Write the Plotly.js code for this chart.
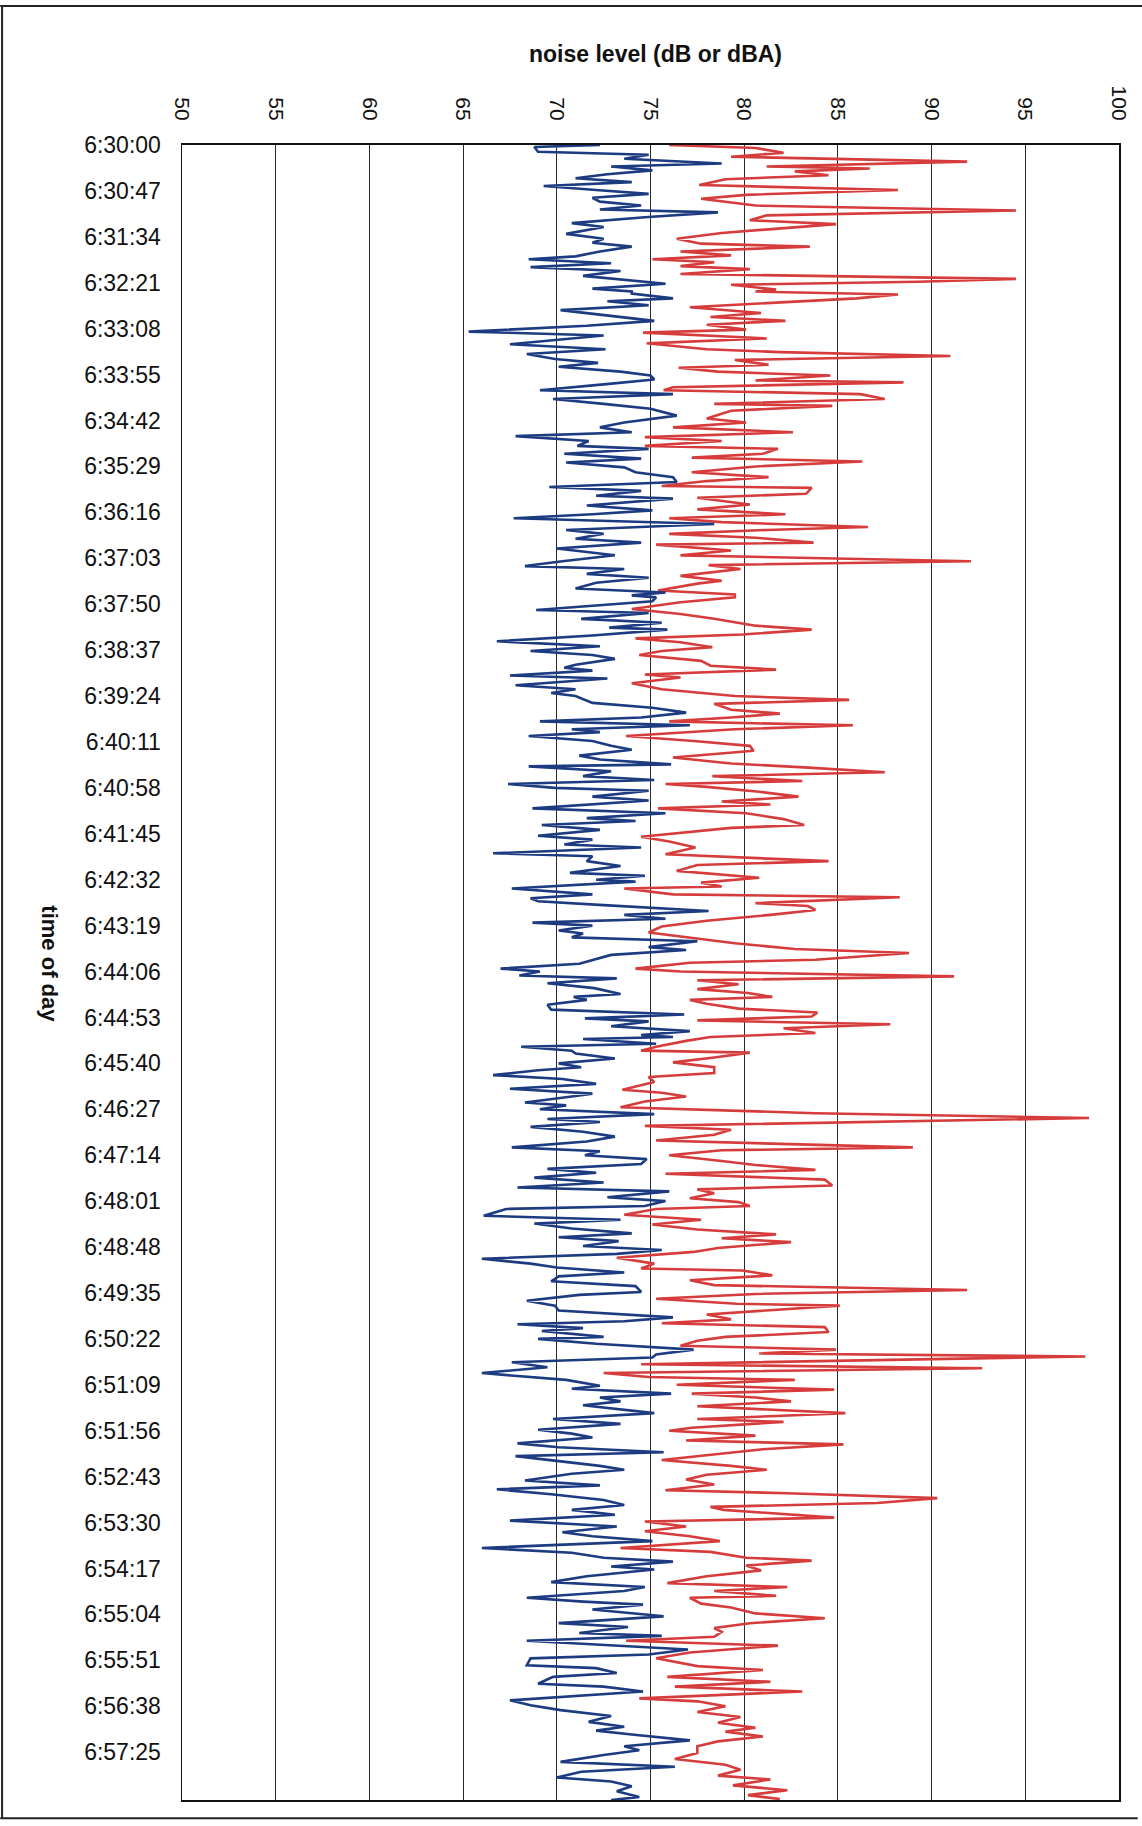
<!DOCTYPE html>
<html>
<head>
<meta charset="utf-8">
<script src="https://cdn.plot.ly/plotly-3.0.1.min.js"></script>
<style>
html,body{margin:0;padding:0;background:#fff;}
#chart{width:1142px;height:1826px;}
</style>
</head>
<body>
<div id="chart"></div>
<script>
// seconds after 6:30:00 and noise level readings
const blueTime = [0,2,7,10,14,19,22,26,30,34,38,42,46,50,54,58,62,66,69,74,80,84,91,96,100,104,109,114,117,121,125,129,134,138,142,147,150,
152,157,160,164,169,174,180,185,191,195,204,209,214,219,223,227,232,236,240,245,251,255,260,265,270,277,284,289,294,298,303,
308,311,316,321,325,330,335,340,345,350,354,359,362,369,374,378,382,386,388,394,398,403,407,413,417,420,426,431,434,439,443,448,454,458,461,
463,467,476,479,485,489,494,496,502,508,513,518,522,526,532,535,538,543,546,553,557,561,564,571,576,581,586,590,594,598,601,605,610,615,
619,625,629,634,636,641,646,650,654,658,661,667,671,679,684,689,692,696,701,707,711,716,719,725,728,733,738,745,748,752,754,761,767,771,
774,778,784,788,792,796,799,804,807,811,815,821,824,829,838,843,846,850,853,858,863,869,872,875,880,885,890,894,897,902,907,911,913,915,920,923,927,
930,935,940,944,947,952,956,961,966,971,974,980,983,987,992,997,1000,1005,1010,1015,1020,1026,1030,1034,1038,1043,1048,1052,1057,1062,1067,1071,1077,1081,
1086,1089,1096,1100,1104,1109,1114,1118,1122,1127,1131,1135,1140,1145,1149,1154,1158,1163,1168,1174,1177,1183,1188,1193,1200,1204,1207,1211,1214,1220,1222,1227,1233,1238,
1241,1246,1251,1257,1264,1270,1273,1278,1282,1286,1290,1298,1304,1309,1315,1319,1323,1329,1333,1338,1342,1347,1352,1356,1360,1367,1372,1376,1381,1387,1392,
1397,1402,1408,1414,1420,1424,1429,1436,1441,1446,1450,1455,1458,1465,1471,1476,1480,1487,1491,1494,1499,1506,1513,1517,1523,1526,1531,1536,1540,1545,1549,
1556,1559,1564,1568,1575,1578,1583,1588,1592,1597,1602,1608,1614,1619,1623,1627,1633,1639,1643,1648,1655,1660,1665,1671,1675,1680,1685,1691,1694];
const blueLevel = [72.3,68.8,69.0,74.9,73.6,78.8,72.9,75.1,72.7,71.0,74.0,69.3,72.1,74.9,71.9,72.3,74.5,72.3,78.6,74.7,70.8,72.5,70.5,72.5,71.9,74.0,72.3,71.0,68.5,72.9,68.6,73.4,71.4,73.6,75.8,71.9,74.0,
74.0,76.2,72.7,74.9,70.2,72.5,75.2,71.6,65.3,72.5,67.5,72.6,68.4,69.9,72.2,70.1,73.4,75.0,75.2,72.5,69.1,76.2,69.8,72.5,75.0,76.4,73.6,72.3,74.0,67.8,71.7,
71.1,74.9,70.4,74.5,70.5,73.6,74.2,76.2,76.4,69.6,74.5,72.1,76.2,71.6,75.1,71.9,67.7,75.1,78.4,70.5,72.5,71.0,74.5,70.0,71.9,73.1,70.3,68.3,73.6,71.6,74.9,72.1,71.0,75.8,74.0,
75.3,75.1,68.9,74.9,71.3,75.6,72.8,75.9,71.9,66.8,72.3,68.6,71.9,73.1,71.0,70.4,71.9,67.5,72.7,67.8,71.0,69.7,71.0,71.9,75.1,76.9,74.5,69.1,77.1,70.8,72.3,68.5,71.9,72.9,
74.0,71.2,72.3,76.1,68.5,72.9,71.4,75.2,67.4,69.9,74.9,71.9,74.9,68.7,75.8,71.6,74.2,69.2,72.3,69.0,71.9,70.4,74.5,66.6,71.9,71.6,73.4,70.7,74.7,72.1,74.2,67.6,71.9,68.6,
69.0,72.5,78.1,73.6,75.8,68.7,71.9,70.1,71.4,70.8,77.5,74.9,76.9,72.9,71.2,67.0,69.1,68.0,73.2,69.5,72.0,73.4,70.9,71.6,69.5,69.7,76.8,71.5,74.9,72.9,77.1,74.5,76.2,71.4,75.3,68.1,70.8,
71.0,73.1,70.1,71.3,69.0,66.6,70.3,72.1,67.5,71.9,70.8,68.3,70.5,69.1,75.2,69.5,72.3,68.6,71.4,73.1,71.6,67.6,72.3,71.5,74.8,74.5,69.5,72.1,68.8,72.5,67.9,76.0,72.7,75.8,
74.7,67.3,66.1,73.4,68.8,70.8,74.0,70.1,73.3,71.4,75.6,73.2,66.0,68.6,70.0,73.6,70.1,69.7,74.2,74.5,71.2,68.4,69.9,70.1,76.2,73.6,67.9,71.4,69.2,72.5,69.0,72.1,77.3,75.3,
75.1,67.6,69.5,66.0,70.5,72.3,70.8,76.1,72.3,73.4,71.4,75.2,69.8,73.4,69.0,70.8,71.9,67.9,70.1,75.7,67.8,70.1,72.3,73.6,70.8,68.3,72.3,66.8,69.7,72.5,73.6,
70.8,73.1,67.5,73.2,70.3,71.9,75.1,66.0,70.8,72.5,76.2,72.9,75.2,71.6,69.7,74.7,73.6,68.4,71.4,74.6,71.9,75.7,70.1,73.8,71.2,75.6,68.4,72.9,77.0,74.9,68.6,
68.4,72.1,73.2,69.8,69.0,72.5,74.6,70.9,67.5,68.6,70.2,72.9,71.7,73.6,72.1,74.0,77.1,73.6,74.4,72.5,70.2,76.3,71.3,70.0,72.9,74.0,73.2,74.4,72.9];

const redTime = [0,3,8,12,17,22,24,27,31,35,41,46,51,55,62,67,72,77,81,86,90,96,101,104,109,113,117,120,124,127,132,137,140,143,148,150,
153,157,166,172,176,180,184,189,192,198,203,209,212,216,220,225,228,232,236,241,243,248,251,255,260,265,267,272,280,284,289,294,299,303,
308,311,316,320,324,329,335,340,344,349,351,357,361,368,373,378,382,386,391,394,398,402,407,409,415,420,426,430,434,441,446,449,456,460,
463,468,475,480,485,492,496,501,505,509,514,518,522,528,533,537,542,545,551,557,564,568,572,578,582,586,590,594,598,605,610,615,
620,627,633,637,642,646,651,654,657,662,667,672,675,679,684,690,696,699,708,713,719,726,733,737,743,750,755,759,761,767,770,
776,779,783,788,794,800,806,811,817,823,827,834,837,843,846,851,855,859,864,868,872,875,879,884,888,892,896,900,904,909,913,917,923,927,
929,934,939,944,950,954,959,967,970,974,979,985,991,996,1000,1004,1008,1013,1019,1022,1026,1029,1034,1040,1044,1049,1053,1059,1065,1069,1073,1078,1082,
1086,1089,1095,1100,1105,1110,1115,1119,1123,1129,1133,1139,1145,1150,1152,1157,1162,1167,1172,1176,1181,1186,1188,1192,1197,1202,1206,1210,1215,1220,1224,1229,1233,1237,
1240,1248,1252,1257,1261,1264,1269,1274,1278,1282,1286,1291,1298,1301,1304,1307,1313,1316,1321,1326,1330,1335,1340,1346,1352,1356,1361,1366,1371,1377,1380,1385,1390,1394,
1397,1405,1409,1414,1419,1424,1429,1436,1440,1446,1449,1454,1459,1465,1472,1476,1480,1485,1487,1493,1497,1503,1508,1513,1518,1522,1527,1531,1536,1538,1543,1549,
1557,1561,1568,1573,1578,1583,1590,1593,1598,1604,1609,1615,1620,1624,1629,1634,1639,1646,1652,1658,1663,1669,1673,1679,1684,1689,1693];
const redLevel = [76.0,80.6,82.1,79.3,91.9,81.2,86.7,82.7,84.5,79.0,77.6,88.2,80.1,77.7,80.6,94.5,81.2,80.3,84.9,81.4,78.8,76.4,77.7,83.5,76.6,79.3,75.1,78.4,76.6,80.3,76.6,94.5,89.3,79.3,81.7,80.6,
88.2,86.0,77.1,80.9,78.2,82.2,78.0,80.1,74.6,81.2,74.8,78.0,81.9,91.0,79.5,81.3,76.5,78.6,84.6,80.6,88.5,76.2,75.7,86.2,87.5,78.4,84.7,79.3,78.0,80.1,76.2,82.6,74.7,78.8,
74.7,81.8,81.0,77.2,86.3,80.6,77.2,81.3,78.0,75.6,83.6,83.3,77.5,80.3,77.5,82.2,76.0,78.8,86.6,81.2,76.0,80.6,83.7,75.3,79.3,76.6,92.1,78.1,79.8,76.6,78.8,77.5,75.4,79.5,
79.5,76.6,74.0,76.6,78.4,80.6,83.6,79.9,74.2,76.6,78.3,75.6,74.4,77.7,78.2,81.7,74.7,76.6,74.0,75.6,79.5,85.6,78.4,79.3,81.9,79.3,76.0,85.8,79.5,73.7,77.3,80.3,
80.5,76.2,79.3,83.2,87.5,78.3,83.1,75.8,78.0,80.8,82.9,78.8,81.4,75.4,80.1,82.1,83.2,79.3,74.5,76.0,77.4,75.8,84.5,77.5,76.4,80.8,77.7,78.8,73.6,76.2,88.3,
80.6,83.4,83.8,81.4,78.0,75.6,74.9,77.1,79.5,82.7,88.8,83.8,77.1,74.2,76.6,91.2,77.5,79.7,77.5,80.2,81.5,77.1,78.0,79.7,83.9,83.6,77.5,87.8,82.1,83.8,78.2,76.9,75.3,74.5,
80.3,78.4,76.2,78.4,78.4,74.9,75.2,73.5,75.6,76.9,74.7,73.4,83.8,98.4,87.1,74.7,79.3,78.4,75.3,80.6,89.0,78.8,76.0,78.8,80.6,83.8,75.8,84.3,84.7,77.5,78.4,77.1,79.7,
80.3,75.3,73.6,77.7,75.1,77.5,81.7,78.8,82.5,78.6,77.3,73.2,75.2,74.5,79.9,81.5,77.1,78.4,91.9,80.6,75.3,79.6,85.1,81.7,78.0,79.3,75.6,84.3,84.5,79.0,77.5,76.6,84.9,80.8,
98.2,74.5,92.7,72.5,74.9,82.7,76.4,84.8,77.2,80.6,82.5,77.5,85.4,81.7,77.5,82.1,77.2,76.0,80.6,76.9,85.3,81.0,78.4,75.6,79.3,81.2,78.0,76.9,78.4,75.8,82.3,90.3,87.1,78.2,
78.9,84.8,74.7,76.9,74.7,77.1,78.7,73.4,78.2,80.1,83.6,80.1,80.9,78.0,75.9,82.3,78.4,81.7,77.1,77.7,79.3,80.6,84.3,80.3,78.4,78.8,78.4,73.7,81.8,80.3,77.1,75.3,
77.5,81.0,75.9,81.4,76.3,83.1,74.4,77.5,79.0,77.5,79.8,78.6,80.6,79.0,81.0,78.6,77.5,77.5,76.3,79.0,79.8,78.6,81.4,79.4,82.3,80.2,81.9];

// category tick labels (every 47 s)
const timeTickSeconds = [0,47,94,141,188,235,282,329,376,423,470,517,564,611,658,705,752,799,846,893,940,987,1034,1081,1128,1175,1222,1269,1316,1363,1410,1457,1504,1551,1598,1645];
const timeTickLabels = ["6:30:00","6:30:47","6:31:34","6:32:21","6:33:08","6:33:55","6:34:42","6:35:29","6:36:16","6:37:03","6:37:50","6:38:37","6:39:24","6:40:11","6:40:58","6:41:45","6:42:32","6:43:19","6:44:06","6:44:53","6:45:40","6:46:27","6:47:14","6:48:01","6:48:48","6:49:35","6:50:22","6:51:09","6:51:56","6:52:43","6:53:30","6:54:17","6:55:04","6:55:51","6:56:38","6:57:25"];
const levelTicks = [50,55,60,65,70,75,80,85,90,95,100];

const FONT = "Liberation Sans, Arial, sans-serif";

const traces = [
  {type:'scatter', mode:'lines', x: redLevel, y: redTime, name:'dB',
   line:{color:'#d63c3c', width:2.6}, hoverinfo:'skip'},
  {type:'scatter', mode:'lines', x: blueLevel, y: blueTime, name:'dBA',
   line:{color:'#1c3b80', width:2.6}, hoverinfo:'skip'}
];

const layout = {
  width:1142, height:1826,
  margin:{l:182, r:23, t:145, b:26},
  paper_bgcolor:'#fff', plot_bgcolor:'#fff',
  showlegend:false,
  font:{family:FONT, color:'#111', size:22},
  xaxis:{
    side:'top', range:[50,100], tickvals:levelTicks, ticktext:levelTicks.map(String),
    tickangle:90, ticks:'', ticklabelstandoff:15,
    tickfont:{family:FONT, size:21, color:'#111'},
    showgrid:true, gridcolor:'#2a2a2a', gridwidth:1,
    showline:true, linecolor:'#111', linewidth:2, mirror:true,
    zeroline:false, fixedrange:true
  },
  yaxis:{
    range:[1694,0], tickvals:timeTickSeconds, ticktext:timeTickLabels,
    ticks:'', ticklabelstandoff:15,
    tickfont:{family:FONT, size:23, color:'#111'},
    showgrid:false, zeroline:false,
    showline:true, linecolor:'#111', linewidth:1.5, mirror:true, fixedrange:true
  },
  annotations:[
    {text:'<b>noise level (dB or dBA)</b>', xref:'paper', yref:'paper', x:0.505, y:1.0547,
     xanchor:'center', yanchor:'middle', showarrow:false, font:{family:FONT, size:23, color:'#111'}},
    {text:'<b>time of day</b>', xref:'paper', yref:'paper', x:-0.141, y:0.505,
     xanchor:'center', yanchor:'middle', textangle:90, showarrow:false, font:{family:FONT, size:22, color:'#111'}}
  ],
  shapes:[
    {type:'line', xref:'paper', yref:'paper', x0:-0.194, x1:1.025, y0:1.084, y1:1.084, line:{color:'#222', width:2}},
    {type:'line', xref:'paper', yref:'paper', x0:-0.192, x1:-0.192, y0:1.084, y1:-0.011, line:{color:'#222', width:2}},
    {type:'line', xref:'paper', yref:'paper', x0:-0.194, x1:1.02, y0:-0.011, y1:-0.011, line:{color:'#222', width:2}}
  ]
};

Plotly.newPlot('chart', traces, layout, {displayModeBar:false, staticPlot:true});
</script>
</body>
</html>
